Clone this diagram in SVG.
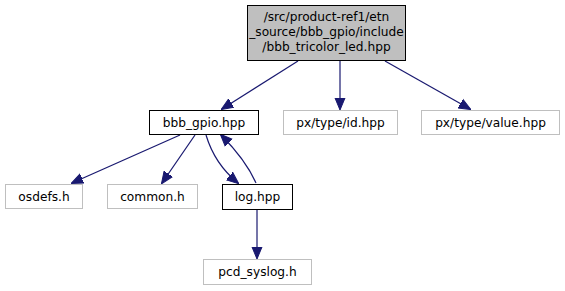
<svg xmlns="http://www.w3.org/2000/svg" width="565" height="291" viewBox="0 0 565 291">
<style>
  text { font-family: "DejaVu Sans", sans-serif; font-size: 12.2px; fill: #000; text-anchor: middle; }
  .main rect { fill: #bfbfbf; stroke: #000; stroke-width: 1; }
  .local rect { fill: #fff; stroke: #000; stroke-width: 1; }
  .ext rect { fill: #fff; stroke: #bfbfbf; stroke-width: 1; }
  .edge path { fill: none; stroke: #191970; stroke-width: 1.2; }
</style>
<defs>
  <marker id="arrow" viewBox="0 0 12 12" refX="11" refY="6" markerWidth="12" markerHeight="12" markerUnits="userSpaceOnUse" orient="auto">
    <path d="M0,1 L12,6 L0,11 Z" fill="#191970" stroke="#191970"/>
  </marker>
</defs>
<rect width="565" height="291" fill="#fff"/>

<g id="edges" class="edge">
  <path d="M298,61 L222,109" marker-end="url(#arrow)"/>
  <path d="M340,61 L340,109" marker-end="url(#arrow)"/>
  <path d="M385,61 L470,109" marker-end="url(#arrow)"/>
  <path d="M180,135 L72,183" marker-end="url(#arrow)"/>
  <path d="M195,135 L162,183" marker-end="url(#arrow)"/>
  <path d="M206,135 C212,155 222,170 238,183" marker-end="url(#arrow)"/>
  <path d="M256,183 C248,165 236,150 221,135" marker-end="url(#arrow)"/>
  <path d="M257,210 L257,258" marker-end="url(#arrow)"/>
</g>

<g id="node_root" class="main">
  <rect x="247.5" y="5.5" width="158" height="55"/>
  <text x="326.5" y="21">/src/product-ref1/etn</text>
  <text x="326.5" y="36">_source/bbb_gpio/include</text>
  <text x="326.5" y="51">/bbb_tricolor_led.hpp</text>
</g>
<g id="node_bbb_gpio" class="local">
  <rect x="149.5" y="110.5" width="109" height="24"/>
  <text x="204" y="127">bbb_gpio.hpp</text>
</g>
<g id="node_id" class="ext">
  <rect x="283.5" y="110.5" width="114" height="24"/>
  <text x="340.5" y="127">px/type/id.hpp</text>
</g>
<g id="node_value" class="ext">
  <rect x="421.5" y="110.5" width="138" height="24"/>
  <text x="490.5" y="127">px/type/value.hpp</text>
</g>
<g id="node_osdefs" class="ext">
  <rect x="5.5" y="184.5" width="77" height="24"/>
  <text x="44" y="201">osdefs.h</text>
</g>
<g id="node_common" class="ext">
  <rect x="107.5" y="184.5" width="90" height="24"/>
  <text x="152.5" y="201">common.h</text>
</g>
<g id="node_log" class="local">
  <rect x="222.5" y="184.5" width="70" height="25"/>
  <text x="257.5" y="201">log.hpp</text>
</g>
<g id="node_pcd_syslog" class="ext">
  <rect x="203.5" y="259.5" width="108" height="25"/>
  <text x="257.5" y="276">pcd_syslog.h</text>
</g>
</svg>
